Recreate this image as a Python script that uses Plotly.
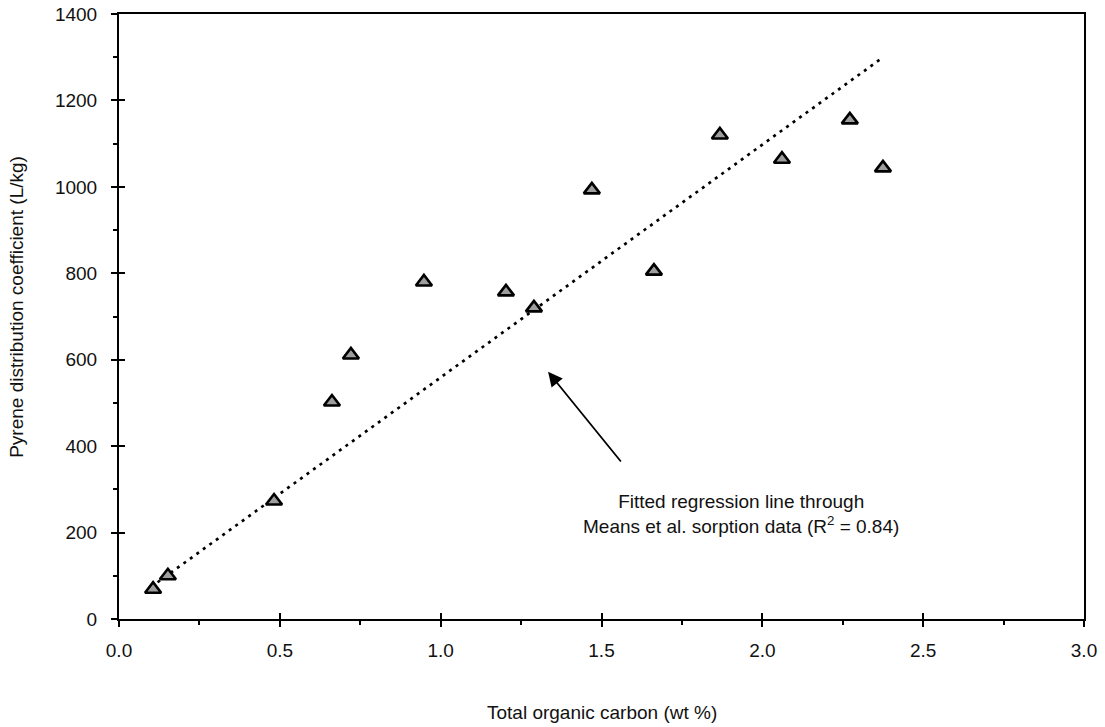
import plotly.graph_objects as go

# Data
toc = [0.106, 0.152, 0.482, 0.662, 0.721, 0.948, 1.203, 1.290, 1.470, 1.663, 1.868, 2.061, 2.272, 2.375]
kd = [69, 100, 273, 502, 611, 780, 757, 720, 993, 805, 1120, 1064, 1155, 1044]

# Fitted regression line end points
fit_x = [0.12, 2.37]
fit_y = [85, 1297]

x_ticks = [0.0, 0.5, 1.0, 1.5, 2.0, 2.5, 3.0]
y_ticks = [0, 200, 400, 600, 800, 1000, 1200, 1400]

FONT = "Liberation Sans, Arial, Helvetica, sans-serif"
fs = 19

fig = go.Figure()
fig.add_trace(go.Scatter(
    x=fit_x, y=fit_y, mode="lines",
    line=dict(color="black", width=2.7, dash="3px,5px"),
    hoverinfo="skip", showlegend=False))
fig.add_trace(go.Scatter(
    x=toc, y=kd, mode="markers",
    marker=dict(symbol="triangle-up", size=14, color="#9e9e9e",
                line=dict(color="black", width=2.6)),
    showlegend=False))
# invisible trace on overlay axes so that inner tick halves are drawn
fig.add_trace(go.Scatter(x=[None], y=[None], xaxis="x2", yaxis="y2",
                         showlegend=False, hoverinfo="skip"))

axis_common = dict(showgrid=False, zeroline=False, showline=True,
                   linecolor="black", linewidth=2, ticks="outside",
                   tickcolor="black", tickwidth=2, ticklen=6,
                   tickfont=dict(family=FONT, size=fs, color="#111"),
                   mirror=True, automargin=False)

fig.update_layout(
    width=1105, height=727,
    margin=dict(l=119, r=21, t=14, b=108),
    paper_bgcolor="white", plot_bgcolor="white",
    font=dict(family=FONT, size=fs, color="#111"),
    xaxis=dict(range=[0, 3.0], tickvals=x_ticks, tickformat=".1f",
               minor=dict(dtick=0.25, tick0=0, ticks="outside", ticklen=4,
                          tickwidth=2, tickcolor="black"),
               ticklabelstandoff=7,
               **axis_common),
    yaxis=dict(range=[0, 1400], tickvals=y_ticks,
               minor=dict(dtick=100, tick0=0, ticks="outside", ticklen=4,
                          tickwidth=2, tickcolor="black"),
               ticklabelstandoff=10,
               **axis_common),
    xaxis2=dict(overlaying="x", matches="x", range=[0, 3.0], tickvals=x_ticks,
                ticks="inside", ticklen=6, tickwidth=2, tickcolor="black",
                showticklabels=False, showgrid=False, zeroline=False,
                showline=False, anchor="y2", side="bottom", automargin=False),
    yaxis2=dict(overlaying="y", matches="y", range=[0, 1400], tickvals=y_ticks,
                ticks="inside", ticklen=6, tickwidth=2, tickcolor="black",
                showticklabels=False, showgrid=False, zeroline=False,
                showline=False, anchor="x2", side="left", automargin=False),
)

# axis titles as annotations
fig.add_annotation(text="Pyrene distribution coefficient (L/kg)",
                   xref="paper", yref="paper", x=-0.1057, y=0.516,
                   textangle=-90, showarrow=False,
                   xanchor="center", yanchor="middle",
                   font=dict(family=FONT, size=fs, color="#111"))
fig.add_annotation(text="Total organic carbon (wt %)",
                   xref="paper", yref="paper", x=0.5, y=-0.155,
                   showarrow=False, xanchor="center", yanchor="middle",
                   font=dict(family=FONT, size=fs, color="#111"))

# arrow
fig.add_annotation(x=1.334, y=572, ax=1.564, ay=361,
                   xref="x", yref="y", axref="x", ayref="y",
                   showarrow=True, arrowhead=2, arrowsize=1.6,
                   arrowwidth=1.8, arrowcolor="black", text="")

# label text
fig.add_annotation(x=1.934, y=243, xref="x", yref="y",
                   text="Fitted regression line through<br>Means et al. sorption data (R<sup>2</sup> = 0.84)",
                   showarrow=False, align="center",
                   font=dict(family=FONT, size=fs, color="#111"))

fig.write_html("out.html")
